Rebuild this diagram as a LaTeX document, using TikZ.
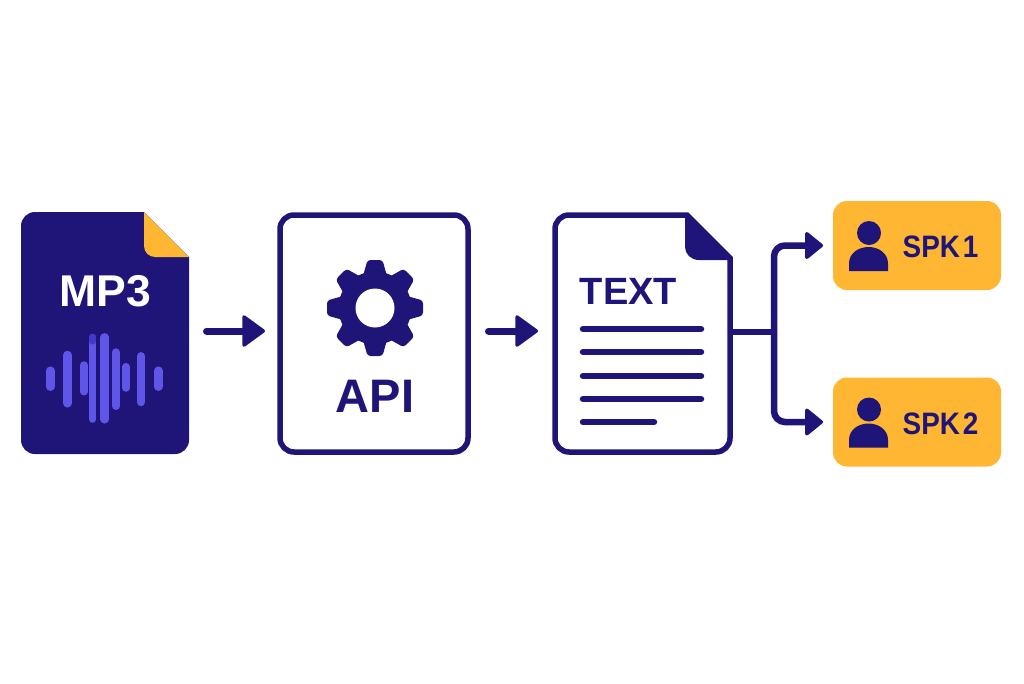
\documentclass[tikz,border=0pt]{standalone}
\usepackage{xcolor}
\usepackage{graphicx}
\usepackage{fontspec}
\setmainfont{Liberation Sans}
\usepackage{tikz}
\usetikzlibrary{arrows.meta, positioning}

\definecolor{navy}{HTML}{1F1478}
\definecolor{amber}{HTML}{FFB733}
\definecolor{wave}{HTML}{5F55E8}
\definecolor{wavedark}{HTML}{4338C8}

\begin{document}
\begin{tikzpicture}[x=1pt, y=-1pt, every node/.style={align=center, inner sep=0pt, outer sep=0pt},
    filebox/.style={minimum width=#1, minimum height=242pt},
    docline/.style={navy, line width=6.5pt, line cap=round},
    wavebar/.style={wave, line cap=round},
    flow/.style={navy, line width=7pt, line cap=round, -{Triangle[round, length=24pt, width=34pt, line width=3.5pt]}},
    branch/.style={navy, line width=6.5pt, rounded corners=11pt, shorten >=10pt, -{Triangle[round, length=19pt, width=30pt, line width=3.5pt]}},
    spkbox/.style={fill=amber, rounded corners=14pt, minimum width=168pt, minimum height=89pt},
    biglabel/.style={font=\fontsize{#1}{#1}\selectfont\bfseries, text=navy}]
  \useasboundingbox (0,0) rectangle (1024,683);
  \fill[white] (0,0) rectangle (1024,683);

  \node[filebox=168pt] (mpfile) at (105,333) {};
  \fill[navy, rounded corners=14pt] (21,330) -- (21,212) [sharp corners] -- (144,212) -- (189,257) [rounded corners=14pt] -- (189,454) -- (21,454) -- cycle;
  \fill[amber] (144,212) -- (189,257) -- (155,257) .. controls (149,257) and (144,252) .. (144,246) -- cycle;
  \node[biglabel=44.5pt, text=white] (mplabel) at (105,291) {MP3};
  \foreach \x/\ya/\yb/\w in {50.3/370.7/386.7/8.5, 67.3/355/403.3/8.5, 84/365/391.7/7.5, 92.7/337.3/419.3/7, 104.7/337.3/419.3/8.5, 115.7/352.3/406/8, 126/366.7/388/7.5, 141/356.3/402/8.5, 158.3/370.7/386.7/8.5}
    \draw[wavebar, line width=\w pt] (\x,\ya) -- (\x,\yb);
  \draw[wavedark, line width=7pt, line cap=round] (92.7,337.3) -- (92.7,341);

  \node[draw=navy, line width=5.5pt, minimum width=188pt, minimum height=237pt, rounded corners=14pt] (apibox) at (374,333.5) {};
  \foreach \a in {0,45,...,315}
    \fill[navy, rounded corners=3pt, shift={(375,308)}, rotate=\a] (-12.5,-30) -- (-7.5,-48) -- (7.5,-48) -- (12.5,-30) -- cycle;
  \fill[navy] (375,308) circle[radius=36.5pt];
  \fill[white] (375,308) circle[radius=19.5pt];
  \node[biglabel=47pt] (apilabel) at (375,396) {API};

  \node[filebox=181pt] (textfile) at (642.5,333.5) {};
  \draw[navy, fill=white, line width=5.5pt, rounded corners=14pt] (555,330) -- (555,215) [sharp corners] -- (687,215) -- (730,258) [rounded corners=14pt] -- (730,452) -- (555,452) -- cycle;
  \fill[navy] (685,213) -- (732,258) -- (732,260) -- (699,260) .. controls (691,260) and (685,254) .. (685,247) -- cycle;
  \node[biglabel=38pt] (textlabel) at (628.5,291) {TEXT};
  \foreach \y/\xb in {329/701, 352/701, 376/701, 399/701, 422/654}
    \draw[docline] (583,\y) -- (\xb,\y);

  \node[spkbox] (spka) at (917,245.5) {};
  \node[spkbox] (spkb) at (917,422) {};
  \foreach \nm/\lbl in {spka/SPK\hspace{.1em}1, spkb/SPK\hspace{.1em}2} {
    \begin{scope}[shift={(\nm.center)}]
      \fill[navy] (-48,-12.5) circle[radius=12pt];
      \fill[navy] (-68,25.5) -- (-68,18) .. controls (-68,8) and (-59,1.5) .. (-48.5,1.5) .. controls (-38,1.5) and (-29,8) .. (-29,18) -- (-29,25.5) -- cycle;
      \node[biglabel=31pt] (\nm-name) at (23.5,1.5) {\scalebox{0.9}[1]{\lbl}};
    \end{scope}
  }

  \draw[flow] ([yshift=2pt,xshift=17.5pt]mpfile.east) -- ([yshift=2.5pt,xshift=-15pt]apibox.west);
  \draw[flow] ([yshift=2.5pt,xshift=20.5pt]apibox.east) -- ([yshift=2.5pt,xshift=-14pt]textfile.west);
  \coordinate (split) at (774,332);
  \draw[navy, line width=6.5pt] (textfile.east |- split) -- (split);
  \draw[branch] (split) |- (spka);
  \draw[branch] (split) |- (spkb);
\end{tikzpicture}
\end{document}
